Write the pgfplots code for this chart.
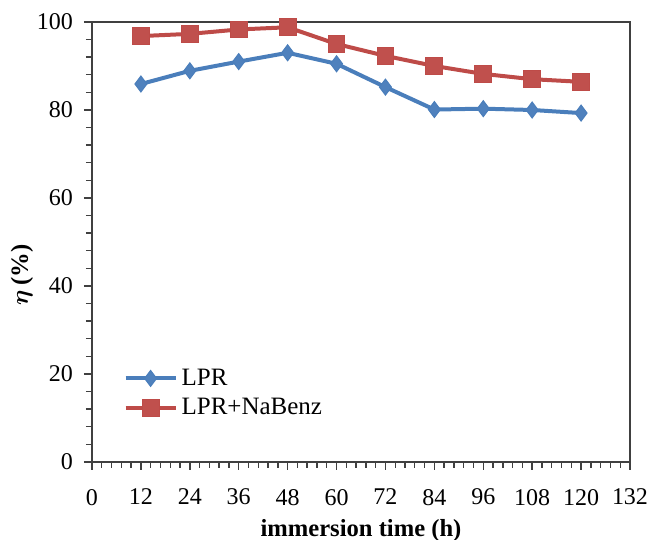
\documentclass[border=0pt]{standalone}
\usepackage{bm}
\usepackage{fontspec}
\setmainfont{Liberation Serif}
\usepackage{pgfplots}
\pgfplotsset{compat=1.18}
\definecolor{lprblue}{HTML}{4A7EBB}
\definecolor{lprblueF}{HTML}{4F81BD}
\definecolor{nabred}{HTML}{BE4B48}
\definecolor{nabredF}{HTML}{C0504D}
\definecolor{axgray}{HTML}{404040}

\begin{document}
\begin{tikzpicture}
\path[use as bounding box] (0,0) rectangle (324.5pt,270pt);
\begin{axis}[
  at={(46pt,39pt)}, anchor=south west,
  scale only axis, width=269pt, height=220pt,
  xmin=0, xmax=132, ymin=0, ymax=100,
  xtick={0,12,...,132}, ytick={0,20,...,100},
  minor x tick num=4, minor y tick num=4,
  tick pos=left, tick align=outside,
  major tick length=4pt, minor tick length=3pt,
  axis line style={color=axgray, line width=0.8pt},
  every tick/.style={color=axgray, line width=0.7pt},
  /pgf/number format/assume math mode=true,
  tick label style={font=\fontsize{12}{14}\selectfont},
  xticklabel style={yshift=-6pt},
  yticklabel style={xshift=-2pt},
  xlabel={\textbf{immersion time (h)}},
  ylabel={$\bm{\eta}$\,\textbf{(\%)}},
  xlabel style={font=\fontsize{12.3}{14}\selectfont, at={(axis description cs:0.5,-0.156)}, anchor=center},
  ylabel style={font=\fontsize{12.3}{14}\selectfont, at={(axis description cs:-0.13,0.425)}, anchor=center},
  legend style={draw=none, fill=none, font=\fontsize{12.5}{15}\selectfont,
    at={(axis description cs:0.058,0.222)}, anchor=north west,
    inner sep=0pt, row sep=1pt},
  legend cell align=left,
  legend image code/.code={
    \draw[#1, mark repeat=2, mark phase=2] plot coordinates {(0pt,0pt) (12.5pt,0pt) (25pt,0pt)};
  },
]
\addplot[color=lprblue, line width=2pt, mark=diamond*, mark size=4pt,
  mark options={fill=lprblueF, draw=lprblue, line width=0.5pt}]
  coordinates {(12,85.9) (24,88.9) (36,91.0) (48,93.0) (60,90.5) (72,85.2) (84,80.1) (96,80.3) (108,80.0) (120,79.3)};
\addlegendentry{LPR}
\addplot[color=nabred, line width=2pt, mark=square*, mark size=4.2pt,
  mark options={fill=nabredF, draw=nabred, line width=0.5pt}]
  coordinates {(12,96.8) (24,97.3) (36,98.3) (48,98.8) (60,95.0) (72,92.3) (84,90.0) (96,88.2) (108,87.0) (120,86.4)};
\addlegendentry{LPR+NaBenz}
\end{axis}
\end{tikzpicture}
\end{document}
